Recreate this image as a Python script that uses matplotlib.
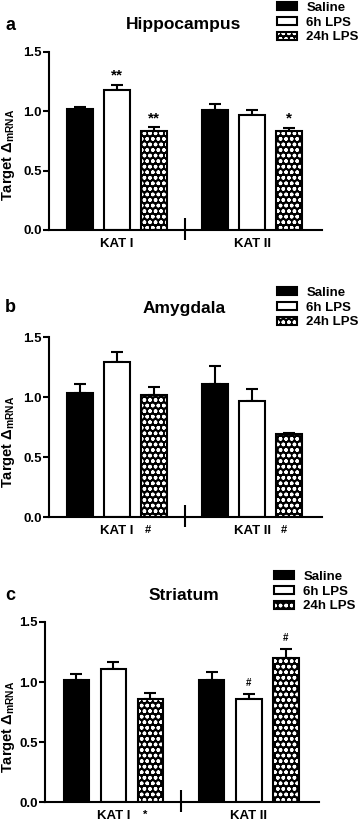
import matplotlib
matplotlib.use('Agg')
import matplotlib.pyplot as plt

plt.rcParams['font.family'] = ['Liberation Sans', 'DejaVu Sans']
plt.rcParams['font.weight'] = 'bold'
plt.rcParams['axes.labelweight'] = 'bold'
plt.rcParams['mathtext.fontset'] = 'custom'
plt.rcParams['mathtext.rm'] = 'Liberation Sans'
plt.rcParams['mathtext.bf'] = 'Liberation Sans:bold'
plt.rcParams['hatch.linewidth'] = 1.0

# data
groups = ['KAT I', 'KAT II']
conditions = ['Saline', '6h LPS', '24h LPS']
regions = ['Hippocampus', 'Amygdala', 'Striatum']
letters = ['a', 'b', 'c']

hippo_mean = [[1.02, 1.18, 0.835], [1.015, 0.967, 0.833]]
hippo_err = [[0.02, 0.042, 0.03], [0.05, 0.048, 0.028]]
amyg_mean = [[1.033, 1.289, 1.019], [1.111, 0.967, 0.69]]
amyg_err = [[0.073, 0.086, 0.064], [0.147, 0.097, 0.012]]
stri_mean = [[1.014, 1.111, 0.858], [1.019, 0.856, 1.2]]
stri_err = [[0.05, 0.053, 0.053], [0.062, 0.041, 0.072]]

means = [hippo_mean, amyg_mean, stri_mean]
errs = [hippo_err, amyg_err, stri_err]

# significance marks above bars: (panel, group, condition, text)
bar_marks = [(0, 0, 1, '**'), (0, 0, 2, '**'), (0, 1, 2, '*'),
             (2, 1, 1, '#'), (2, 1, 2, '#')]
# marks next to the group labels: (panel, group, text)
label_marks = [(1, 0, '#'), (1, 1, '#'), (2, 0, '*')]

W, H = 358, 821
fig = plt.figure(figsize=(W / 100, H / 100), dpi=100)

# axes boxes in pixels: left, right, top (y=1.5), bottom (y=0)
boxes = [(48.5, 322, 52, 230), (48.5, 322, 337, 517), (45, 318.5, 622, 802)]
title_y = [25, 308, 596]
legend_y = [-1, 284, 568]
legend_x = [274, 274, 271]
ylabel_x = [-0.115, -0.115, -0.104]

group_x = [0, 3.65]
bw = 0.70
colors_face = ['black', 'white', 'black']

for p in range(3):
    l, r, t, b = boxes[p]
    ax = fig.add_axes([l / W, 1 - b / H, (r - l) / W, (b - t) / H])
    handles = []
    for g in range(2):
        for c in range(3):
            x = group_x[g] + c
            m = means[p][g][c]
            e = errs[p][g][c]
            ax.errorbar(x, m, yerr=[[0], [e]], fmt='none', ecolor='black',
                        elinewidth=1.5, capsize=4.5, capthick=1.5, zorder=1)
            if c == 2:
                h1 = ax.bar(x, m, bw, color='black', edgecolor='white',
                            hatch='...ooo', linewidth=0, zorder=2)
                h2 = ax.bar(x, m, bw, fill=False, edgecolor='black',
                            linewidth=1.5, zorder=3)
                if g == 0:
                    handles.append((h1[0], h2[0]))
            else:
                h = ax.bar(x, m, bw, color=colors_face[c], edgecolor='black',
                           linewidth=1.5, zorder=2)
                if g == 0:
                    handles.append(h[0])

    for (pp, g, c, txt) in bar_marks:
        if pp != p:
            continue
        x = group_x[g] + c
        top = means[p][g][c] + errs[p][g][c]
        if txt == '#':
            ax.text(x, top + 0.05, txt, ha='center', va='bottom', fontsize=7,
                    fontweight='bold')
        else:
            ax.text(x, top + 0.02, txt, ha='center', va='bottom', fontsize=11,
                    fontweight='bold')
    for (pp, g, txt) in label_marks:
        if pp != p:
            continue
        ax.annotate(txt, (group_x[g] + 1 + 0.85, 0), xytext=(0, -6),
                    textcoords='offset points', ha='center', va='top',
                    fontsize=8, fontweight='bold', annotation_clip=False)

    ax.set_xlim(-0.85, 6.54)
    ax.set_ylim(0, 1.5)
    ax.set_yticks([0, 0.5, 1.0, 1.5])
    ax.set_yticklabels(['0.0', '0.5', '1.0', '1.5'], fontweight='bold')
    ax.set_xticks([g + 1 for g in group_x])
    ax.set_xticklabels(groups, fontweight='bold')
    ax.tick_params(axis='x', length=0, pad=5.5, labelsize=9.5)
    ax.tick_params(axis='y', length=4, width=1.5, labelsize=9.5, pad=1)
    for s in ['top', 'right']:
        ax.spines[s].set_visible(False)
    for s in ['left', 'bottom']:
        ax.spines[s].set_linewidth(1.5)

    mid = (group_x[0] + 2 + group_x[1]) / 2
    ax.plot([mid, mid], [-0.085, 0.1], color='black', lw=1.5,
            clip_on=False, solid_capstyle='butt')

    ax.set_ylabel(r'Target $\Delta_{\mathbf{mRNA}}$', fontsize=10.5)
    ax.yaxis.set_label_coords(ylabel_x[p], 0.42)

    fig.text(184 / W, 1 - title_y[p] / H, regions[p], ha='center',
             va='center', fontsize=12.5, fontweight='bold')
    fig.text(10 / W, 1 - title_y[p] / H, letters[p], ha='center',
             va='center', fontsize=13, fontweight='bold')

    ax.legend(handles, conditions, loc='upper left',
              bbox_to_anchor=(legend_x[p] / W, 1 - legend_y[p] / H),
              bbox_transform=fig.transFigure, frameon=False, fontsize=9.5,
              handlelength=1.55, handleheight=0.5, handletextpad=0.7,
              labelspacing=0.22, borderpad=0.2, borderaxespad=0)

fig.savefig('out.png', dpi=100)
